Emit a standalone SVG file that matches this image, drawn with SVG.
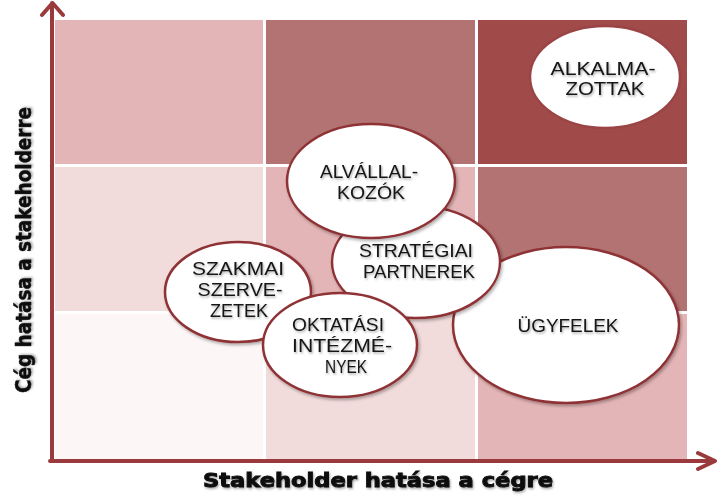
<svg xmlns="http://www.w3.org/2000/svg" width="724" height="501" viewBox="0 0 724 501">
  <defs>
    <style>
      .c1{fill:#fcf6f6}
      .c2{fill:#f2dbdb}
      .c3{fill:#e4b5b6}
      .c4{fill:#b37372}
      .c5{fill:#a04a4a}
      .node ellipse{fill:#ffffff;stroke:#8e3336;stroke-width:2.5}
      .node text{font-family:"Liberation Sans","Open Sans",sans-serif;font-size:18.5px;fill:#141414;text-anchor:middle;filter:url(#ts)}
      .axis{stroke:#9b3a3c;stroke-width:4;fill:none;stroke-linecap:round;stroke-linejoin:round}
      .albl{font-family:"DejaVu Sans","Liberation Sans",sans-serif;font-weight:bold;fill:#0a0a0a;filter:url(#ts)}
    </style>
    <filter id="ts" x="-10%" y="-30%" width="120%" height="160%">
      <feDropShadow dx="1" dy="1.5" stdDeviation="1" flood-color="#000" flood-opacity="0.35"/>
    </filter>
    <filter id="es" x="-10%" y="-10%" width="125%" height="125%">
      <feDropShadow dx="1.5" dy="2" stdDeviation="1.5" flood-color="#000" flood-opacity="0.3"/>
    </filter>
  </defs>
  <rect width="724" height="501" fill="#ffffff"/>
  <g id="grid">
    <rect class="c3" x="55" y="20" width="208" height="144"/>
    <rect class="c4" x="266" y="20" width="209" height="144"/>
    <rect class="c5" x="478" y="20" width="209" height="144"/>
    <rect class="c2" x="55" y="167" width="208" height="144"/>
    <rect class="c3" x="266" y="167" width="209" height="144"/>
    <rect class="c4" x="478" y="167" width="209" height="144"/>
    <rect class="c1" x="55" y="314" width="208" height="145"/>
    <rect class="c2" x="266" y="314" width="209" height="145"/>
    <rect class="c3" x="478" y="314" width="209" height="145"/>
  </g>
  <g id="connectors">
    <path class="axis" d="M52 461 V3 M42 15 L52.5 3 L63 15"/>
    <path class="axis" d="M50 461 H715 M698 453 L715 461 L698 469"/>
  </g>
  <g id="ugyfelek" class="node">
    <ellipse cx="566" cy="325" rx="113" ry="78" filter="url(#es)"/>
    <text x="568" y="332" textLength="101" lengthAdjust="spacingAndGlyphs">ÜGYFELEK</text>
  </g>
  <g id="strategiai" class="node">
    <ellipse cx="416" cy="262" rx="84" ry="56" filter="url(#es)"/>
    <text x="416" y="257" textLength="114" lengthAdjust="spacingAndGlyphs">STRATÉGIAI</text>
    <text x="419" y="278" textLength="112" lengthAdjust="spacingAndGlyphs">PARTNEREK</text>
  </g>
  <g id="alvallalkozok" class="node">
    <ellipse cx="371" cy="181" rx="84" ry="57" filter="url(#es)"/>
    <text x="369" y="178" textLength="98" lengthAdjust="spacingAndGlyphs">ALVÁLLAL-</text>
    <text x="371" y="199" textLength="68" lengthAdjust="spacingAndGlyphs">KOZÓK</text>
  </g>
  <g id="szakmai" class="node">
    <ellipse cx="238" cy="292" rx="73" ry="50" filter="url(#es)"/>
    <text x="238" y="275" textLength="92" lengthAdjust="spacingAndGlyphs">SZAKMAI</text>
    <text x="240" y="296" textLength="85" lengthAdjust="spacingAndGlyphs">SZERVE-</text>
    <text x="239" y="317" textLength="58" lengthAdjust="spacingAndGlyphs">ZETEK</text>
  </g>
  <g id="oktatasi" class="node">
    <ellipse cx="340" cy="345" rx="77" ry="52" filter="url(#es)"/>
    <text x="338" y="331" textLength="92" lengthAdjust="spacingAndGlyphs">OKTATÁSI</text>
    <text x="342" y="352" textLength="100" lengthAdjust="spacingAndGlyphs">INTÉZMÉ-</text>
    <text x="346" y="373" textLength="42" lengthAdjust="spacingAndGlyphs">NYEK</text>
  </g>
  <g id="alkalmazottak" class="node">
    <ellipse cx="605" cy="77" rx="75" ry="51" style="stroke:#9a4446"/>
    <text x="603" y="75" textLength="105" lengthAdjust="spacingAndGlyphs">ALKALMA-</text>
    <text x="605" y="95" textLength="79" lengthAdjust="spacingAndGlyphs">ZOTTAK</text>
  </g>
  <g id="axis-labels">
    <text class="albl" x="378" y="487" font-size="19" text-anchor="middle" stroke="#0a0a0a" stroke-width="0.9" textLength="350" lengthAdjust="spacingAndGlyphs">Stakeholder hatása a cégre</text>
    <text class="albl" transform="translate(31 250) rotate(-90)" x="0" y="0" font-size="21" text-anchor="middle" stroke="#0a0a0a" stroke-width="0.4" textLength="286" lengthAdjust="spacingAndGlyphs">Cég hatása a stakeholderre</text>
  </g>
</svg>
